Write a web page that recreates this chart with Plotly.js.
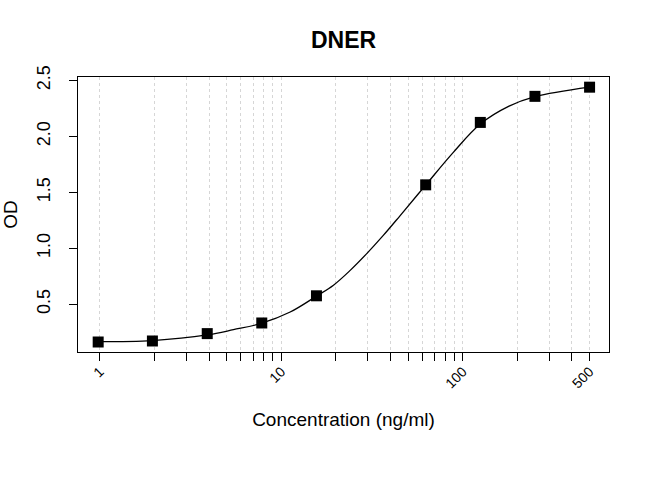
<!DOCTYPE html>
<html>
<head>
<meta charset="utf-8">
<script src="https://cdn.plot.ly/plotly-3.0.1.min.js"></script>
<style>
  html, body { margin: 0; padding: 0; background: #ffffff; }
  #grafico { width: 650px; height: 488px; }
</style>
</head>
<body>
<div id="grafico"></div>
<script>
// standard points (concentration ng/ml, OD)
var concentracao = [0.98, 1.95, 3.91, 7.81, 15.63, 62.5, 125, 250, 500];
var od = [0.162, 0.171, 0.237, 0.332, 0.575, 1.567, 2.125, 2.358, 2.440];

// fitted curve
var curvaX = [0.98, 1.95, 3.91, 5.45, 7.81, 11.2, 15.63, 19.4, 23.9, 29.5, 36.5, 45.1, 62.5, 88.5, 125, 180, 250, 500];
var curvaY = [0.165, 0.175, 0.225, 0.272, 0.33, 0.43, 0.572, 0.67, 0.80, 0.95, 1.115, 1.29, 1.565, 1.855, 2.11, 2.27, 2.355, 2.44];

// x ticks (log axis) and labels
var xTicks = [1, 2, 3, 4, 5, 6, 7, 8, 9, 10, 20, 30, 40, 50, 60, 70, 80, 90, 100, 200, 300, 400, 500];
var xTickLabels = ['1', '', '', '', '', '', '', '', '', '10', '', '', '', '', '', '', '', '', '100', '', '', '', '500'];
var yTicks = [0.5, 1.0, 1.5, 2.0, 2.5];
var yTickLabels = ['0.5', '1.0', '1.5', '2.0', '2.5'];

var fonte = 'Liberation Sans, Arial, sans-serif';

var traceCurva = {
    x: curvaX,
    y: curvaY,
    type: 'scatter',
    mode: 'lines',
    line: { color: '#000000', width: 1.3, shape: 'spline', smoothing: 1 },
    hoverinfo: 'skip'
};

var tracePontos = {
    x: concentracao,
    y: od,
    type: 'scatter',
    mode: 'markers',
    marker: { symbol: 'square', size: 11, color: '#000000' }
};

var layout = {
    width: 650,
    height: 488,
    paper_bgcolor: '#ffffff',
    plot_bgcolor: '#ffffff',
    showlegend: false,
    font: { family: fonte, color: '#000000' },
    margin: { l: 78, r: 41, t: 77, b: 136 },
    title: { text: '<b>DNER</b>', font: { size: 23, family: fonte, color: '#000000' }, x: 0.5, xref: 'paper', y: 0.918, yanchor: 'middle' },
    xaxis: {
        type: 'log',
        range: [-0.12, 2.806],
        tickmode: 'array',
        tickvals: xTicks,
        ticktext: xTickLabels,
        tickangle: -45,
        tickfont: { size: 14, family: fonte },
        ticklabelstandoff: -3,
        ticks: 'outside', ticklen: 8, tickcolor: '#000000',
        showgrid: true, gridcolor: '#d6d6d6', griddash: 'dot', gridwidth: 1,
        zeroline: false,
        showline: true, mirror: true, linecolor: '#000000', linewidth: 1,
        title: { text: 'Concentration (ng/ml)', font: { size: 19, family: fonte }, standoff: 22 },
        automargin: false
    },
    yaxis: {
        range: [0.0726, 2.531],
        tickmode: 'array',
        tickvals: yTicks,
        ticktext: yTickLabels,
        tickangle: -90,
        tickfont: { size: 18, family: fonte },
        ticks: 'outside', ticklen: 8, tickcolor: '#000000',
        ticklabelstandoff: 12,
        showgrid: false,
        zeroline: false,
        showline: true, mirror: true, linecolor: '#000000', linewidth: 1,
        title: { text: 'OD', font: { size: 19, family: fonte }, standoff: 22 },
        automargin: false
    }
};

Plotly.newPlot('grafico', [traceCurva, tracePontos], layout, { displayModeBar: false, staticPlot: true });
</script>
</body>
</html>
